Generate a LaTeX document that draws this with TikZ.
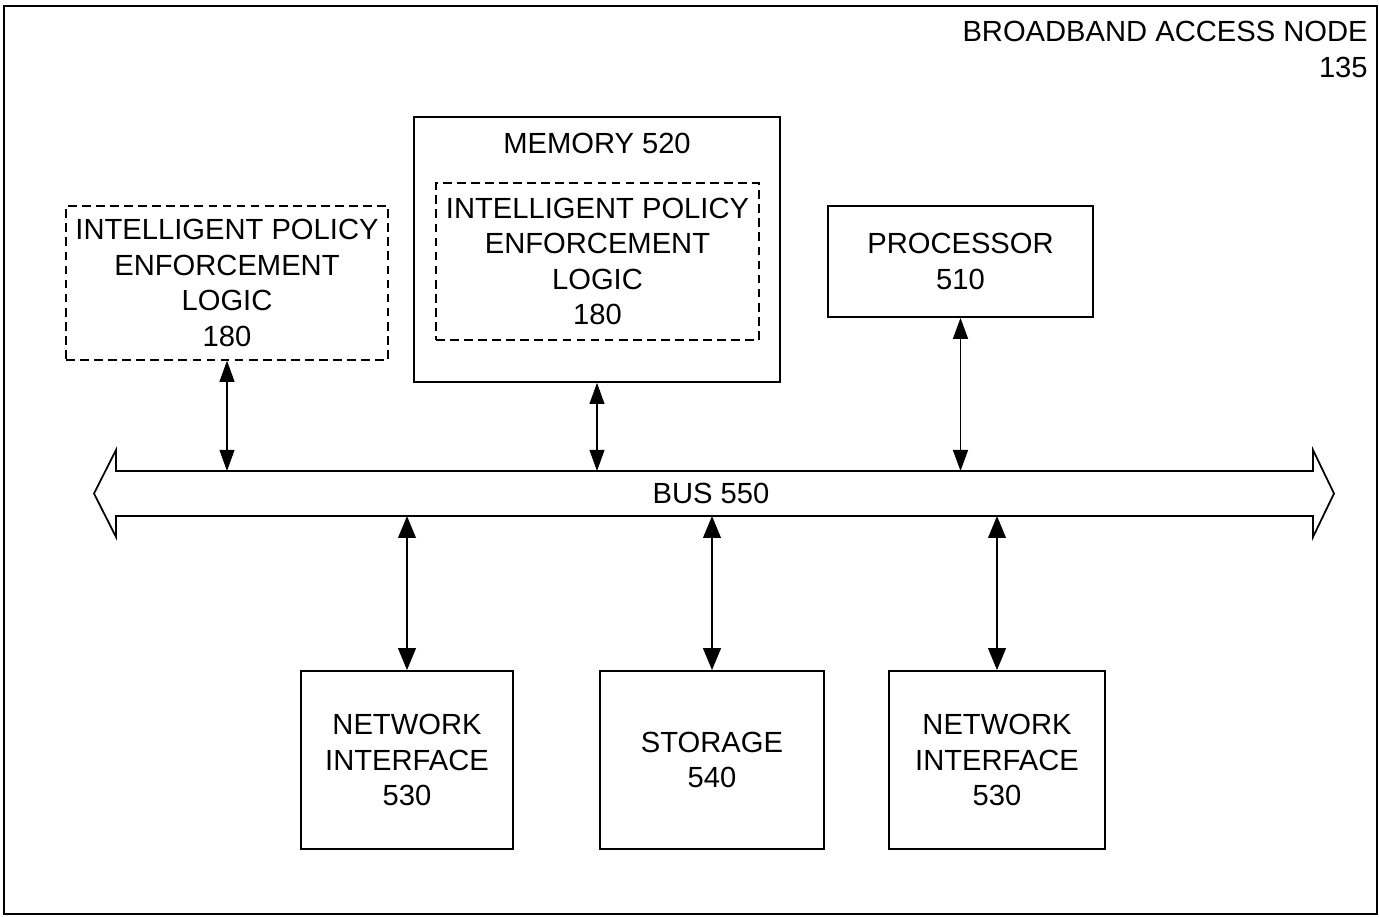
\documentclass[tikz,border=0pt]{standalone}
\usepackage{fontspec}
\setmainfont{Liberation Sans}
\usetikzlibrary{arrows.meta}

\begin{document}
\begin{tikzpicture}[x=0.02cm,y=-0.02cm,
	txt/.style={font=\fontsize{16.6}{20.2}\selectfont},
	box/.style={txt,draw,line width=1pt,align=center,inner sep=0pt},
	dashbox/.style={box,line width=0.8pt,dash pattern=on 5pt off 3pt},
	link/.style={{Triangle[length=12pt,width=8.5pt]}-{Triangle[length=12pt,width=8.5pt]},line width=0.6pt},
	thicklink/.style={{Triangle[length=12.5pt,width=10pt]}-{Triangle[length=12.5pt,width=10pt]},line width=1.3pt}]
	
	% 外框
	\useasboundingbox (0,0) rectangle (1379,916);
	\draw[line width=1.2pt] (4,6) rectangle (1377,914);
	\node[txt,align=right,anchor=east,inner sep=0pt] (title) at (1368,49.5) {BROADBAND ACCESS NODE\\135};
	
	% 总线
	\coordinate (bustop) at (711,471);
	\coordinate (busbot) at (711,516);
	\draw[line width=1pt] (94,493.5) -- (116,450) -- (116,471) -- (1313,471) -- (1313,450) -- (1334,493.5)
		-- (1313,537) -- (1313,516) -- (116,516) -- (116,537) -- cycle;
	\node[txt] (bus) at (711,493) {BUS 550};
	
	% 上方模块
	\node[dashbox,minimum width=6.44cm,minimum height=3.08cm] (ipel) at (227,283) {INTELLIGENT POLICY\\ENFORCEMENT\\LOGIC\\180};
	\node[box,minimum width=7.32cm,minimum height=5.3cm] (mem) at (597,249.5) {};
	\node[txt] (memlabel) at (597,143) {MEMORY 520};
	\node[dashbox,minimum width=6.46cm,minimum height=3.14cm] (memipel) at (597.5,261.5) {INTELLIGENT POLICY\\ENFORCEMENT\\LOGIC\\180};
	\node[box,minimum width=5.3cm,minimum height=2.22cm] (proc) at (960.5,261.5) {PROCESSOR\\510};
	
	% 下方模块
	\node[box,minimum width=4.24cm,minimum height=3.56cm] (netif1) at (407,760) {NETWORK\\INTERFACE\\530};
	\node[box,minimum width=4.48cm,minimum height=3.56cm] (storage) at (712,760) {STORAGE\\540};
	\node[box,minimum width=4.32cm,minimum height=3.56cm] (netif2) at (997,760) {NETWORK\\INTERFACE\\530};
	
	% 连接
	\draw[link] (ipel.south) -- (ipel.south |- bustop);
	\draw[link] (mem.south) -- (mem.south |- bustop);
	\draw[link,line width=1pt] (proc.south) -- (proc.south |- bustop);
	\draw[thicklink] (netif1.north) -- (netif1.north |- busbot);
	\draw[thicklink] (storage.north) -- (storage.north |- busbot);
	\draw[thicklink] (netif2.north) -- (netif2.north |- busbot);
	
\end{tikzpicture}
\end{document}
